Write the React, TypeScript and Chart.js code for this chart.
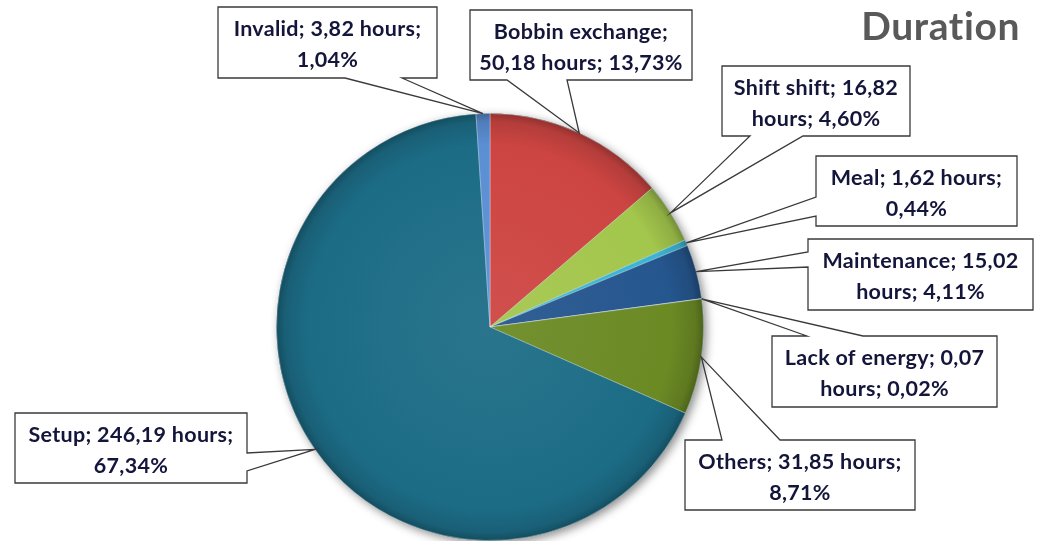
import React, { useEffect, useRef } from "react";
import { Chart, registerables } from "chart.js";
Chart.register(...registerables);

const categories = ["Bobbin exchange", "Shift shift", "Meal", "Maintenance", "Lack of energy", "Others", "Setup", "Invalid"];
const hours = [50.18, 16.82, 1.62, 15.02, 0.07, 31.85, 246.19, 3.82];
const colors = ["#CD4542", "#A3C64C", "#3CB4D2", "#25568E", "#8064A2", "#6B8A24", "#1C6C86", "#5B8ED3"];
const labelBreaks = ["name", "num", "pct", "num", "num", "pct", "pct", "pct"];
const titleText = "Duration";

// label callout layout (pixels)
const labelBoxes = [
  { x: 470, y: 10, w: 222, h: 70, side: "bottom", b1: 507, b2: 567 },
  { x: 722, y: 66, w: 188, h: 70, side: "bottom", b1: 750, b2: 803 },
  { x: 816, y: 156, w: 201, h: 70, side: "left", b1: 197, b2: 216 },
  { x: 808, y: 239, w: 225, h: 71, side: "left", b1: 252, b2: 267 },
  { x: 772, y: 336, w: 225, h: 71, side: "top", b1: 807, b2: 863 },
  { x: 685, y: 440, w: 230, h: 70, side: "top", b1: 722, b2: 780 },
  { x: 15, y: 413, w: 232, h: 70, side: "right", b1: 453, b2: 471 },
  { x: 218, y: 7, w: 219, h: 71, side: "bottom", b1: 345, b2: 402 },
];

const fmt = (v: number) => v.toFixed(2).replace(".", ",");

function shade(hex: string, amt: number) {
  const n = parseInt(hex.slice(1), 16);
  let r = (n >> 16) & 255, g = (n >> 8) & 255, b = n & 255;
  const t = amt < 0 ? 0 : 255;
  const p = Math.abs(amt);
  r = Math.round(r + (t - r) * p);
  g = Math.round(g + (t - g) * p);
  b = Math.round(b + (t - b) * p);
  return `rgb(${r},${g},${b})`;
}

const total = hours.reduce((a, b) => a + b, 0);

function labelLines(i: number): string[] {
  const name = categories[i];
  const num = fmt(hours[i]);
  const pct = fmt((hours[i] / total) * 100);
  const br = labelBreaks[i];
  if (br === "name") return [`${name};`, `${num} hours; ${pct}%`];
  if (br === "num") return [`${name}; ${num}`, `hours; ${pct}%`];
  return [`${name}; ${num} hours;`, `${pct}%`];
}

const shadowPlugin = {
  id: "pieShadow",
  beforeDatasetsDraw(chart: any) {
    const meta = chart.getDatasetMeta(0);
    const a = meta.data[0];
    if (!a) return;
    const ctx = chart.ctx;
    ctx.save();
    ctx.shadowColor = "rgba(0,0,0,0.45)";
    ctx.shadowBlur = 10;
    ctx.shadowOffsetX = 3;
    ctx.shadowOffsetY = 3;
    ctx.fillStyle = "#1C6C86";
    ctx.beginPath();
    ctx.arc(a.x, a.y, a.outerRadius, 0, Math.PI * 2);
    ctx.fill();
    ctx.restore();
  },
};

const calloutPlugin = {
  id: "callouts",
  afterDraw(chart: any) {
    const ctx = chart.ctx;
    const meta = chart.getDatasetMeta(0);
    ctx.save();
    // title
    ctx.font = "bold 39px Lato";
    (ctx as any).letterSpacing = "0.6px";
    ctx.fillStyle = "#595959";
    ctx.textAlign = "right";
    ctx.textBaseline = "alphabetic";
    ctx.fillText(titleText, 1020, 40);

    meta.data.forEach((arc: any, i: number) => {
      const box = labelBoxes[i];
      const mid = (arc.startAngle + arc.endAngle) / 2;
      const ax = arc.x + arc.outerRadius * Math.cos(mid);
      const ay = arc.y + arc.outerRadius * Math.sin(mid);
      const { x, y, w, h, side, b1, b2 } = box;
      ctx.fillStyle = "#ffffff";
      ctx.fillRect(x, y, w, h);
      const pts: [number, number][] = [];
      pts.push([x, y]);
      if (side === "top") pts.push([b1, y], [ax, ay], [b2, y]);
      pts.push([x + w, y]);
      if (side === "right") pts.push([x + w, b1], [ax, ay], [x + w, b2]);
      pts.push([x + w, y + h]);
      if (side === "bottom") pts.push([b2, y + h], [ax, ay], [b1, y + h]);
      pts.push([x, y + h]);
      if (side === "left") pts.push([x, b2], [ax, ay], [x, b1]);
      ctx.beginPath();
      ctx.moveTo(pts[0][0], pts[0][1]);
      for (let k = 1; k < pts.length; k++) ctx.lineTo(pts[k][0], pts[k][1]);
      ctx.closePath();
      ctx.strokeStyle = "#3a3a3a";
      ctx.lineWidth = 1.3;
      ctx.stroke();

      const lines = labelLines(i);
      ctx.font = "bold 21.5px Lato";
      (ctx as any).letterSpacing = "0.3px";
      ctx.fillStyle = "#13153a";
      ctx.textAlign = "center";
      ctx.textBaseline = "alphabetic";
      ctx.fillText(lines[0], x + w / 2, y + 29);
      ctx.fillText(lines[1], x + w / 2, y + 60);
    });
    ctx.restore();
  },
};

export default function App() {
  const ref = useRef<HTMLCanvasElement | null>(null);
  useEffect(() => {
    if (!ref.current) return;
    const chart = new Chart(ref.current, {
      type: "pie",
      data: {
        labels: categories,
        datasets: [
          {
            data: hours,
            backgroundColor: (c: any) => {
              const base = colors[c.dataIndex];
              const area = c.chart.chartArea;
              if (!area) return base;
              const cx = (area.left + area.right) / 2;
              const cy = (area.top + area.bottom) / 2;
              const r = Math.min(area.width, area.height) / 2;
              const g = c.chart.ctx.createRadialGradient(cx, cy, 0, cx, cy, r);
              g.addColorStop(0, shade(base, 0.06));
              g.addColorStop(0.85, base);
              g.addColorStop(0.96, shade(base, -0.12));
              g.addColorStop(1, shade(base, -0.3));
              return g;
            },
            borderColor: "rgba(255,255,255,0.3)",
            borderWidth: 1,
            hoverOffset: 0,
          },
        ],
      },
      options: {
        responsive: false,
        animation: false,
        layout: { padding: { left: 276, right: 338, top: 113, bottom: 0 } },
        plugins: {
          legend: { display: false },
          tooltip: { enabled: false },
          title: { display: false },
        },
      },
      plugins: [shadowPlugin, calloutPlugin],
    });
    return () => chart.destroy();
  }, []);
  return (
    <div style={{ position: "absolute", left: 0, top: 0, width: 1042, height: 541, background: "#fff" }}>
      <canvas ref={ref} width={1042} height={541} style={{ display: "block" }} />
    </div>
  );
}
